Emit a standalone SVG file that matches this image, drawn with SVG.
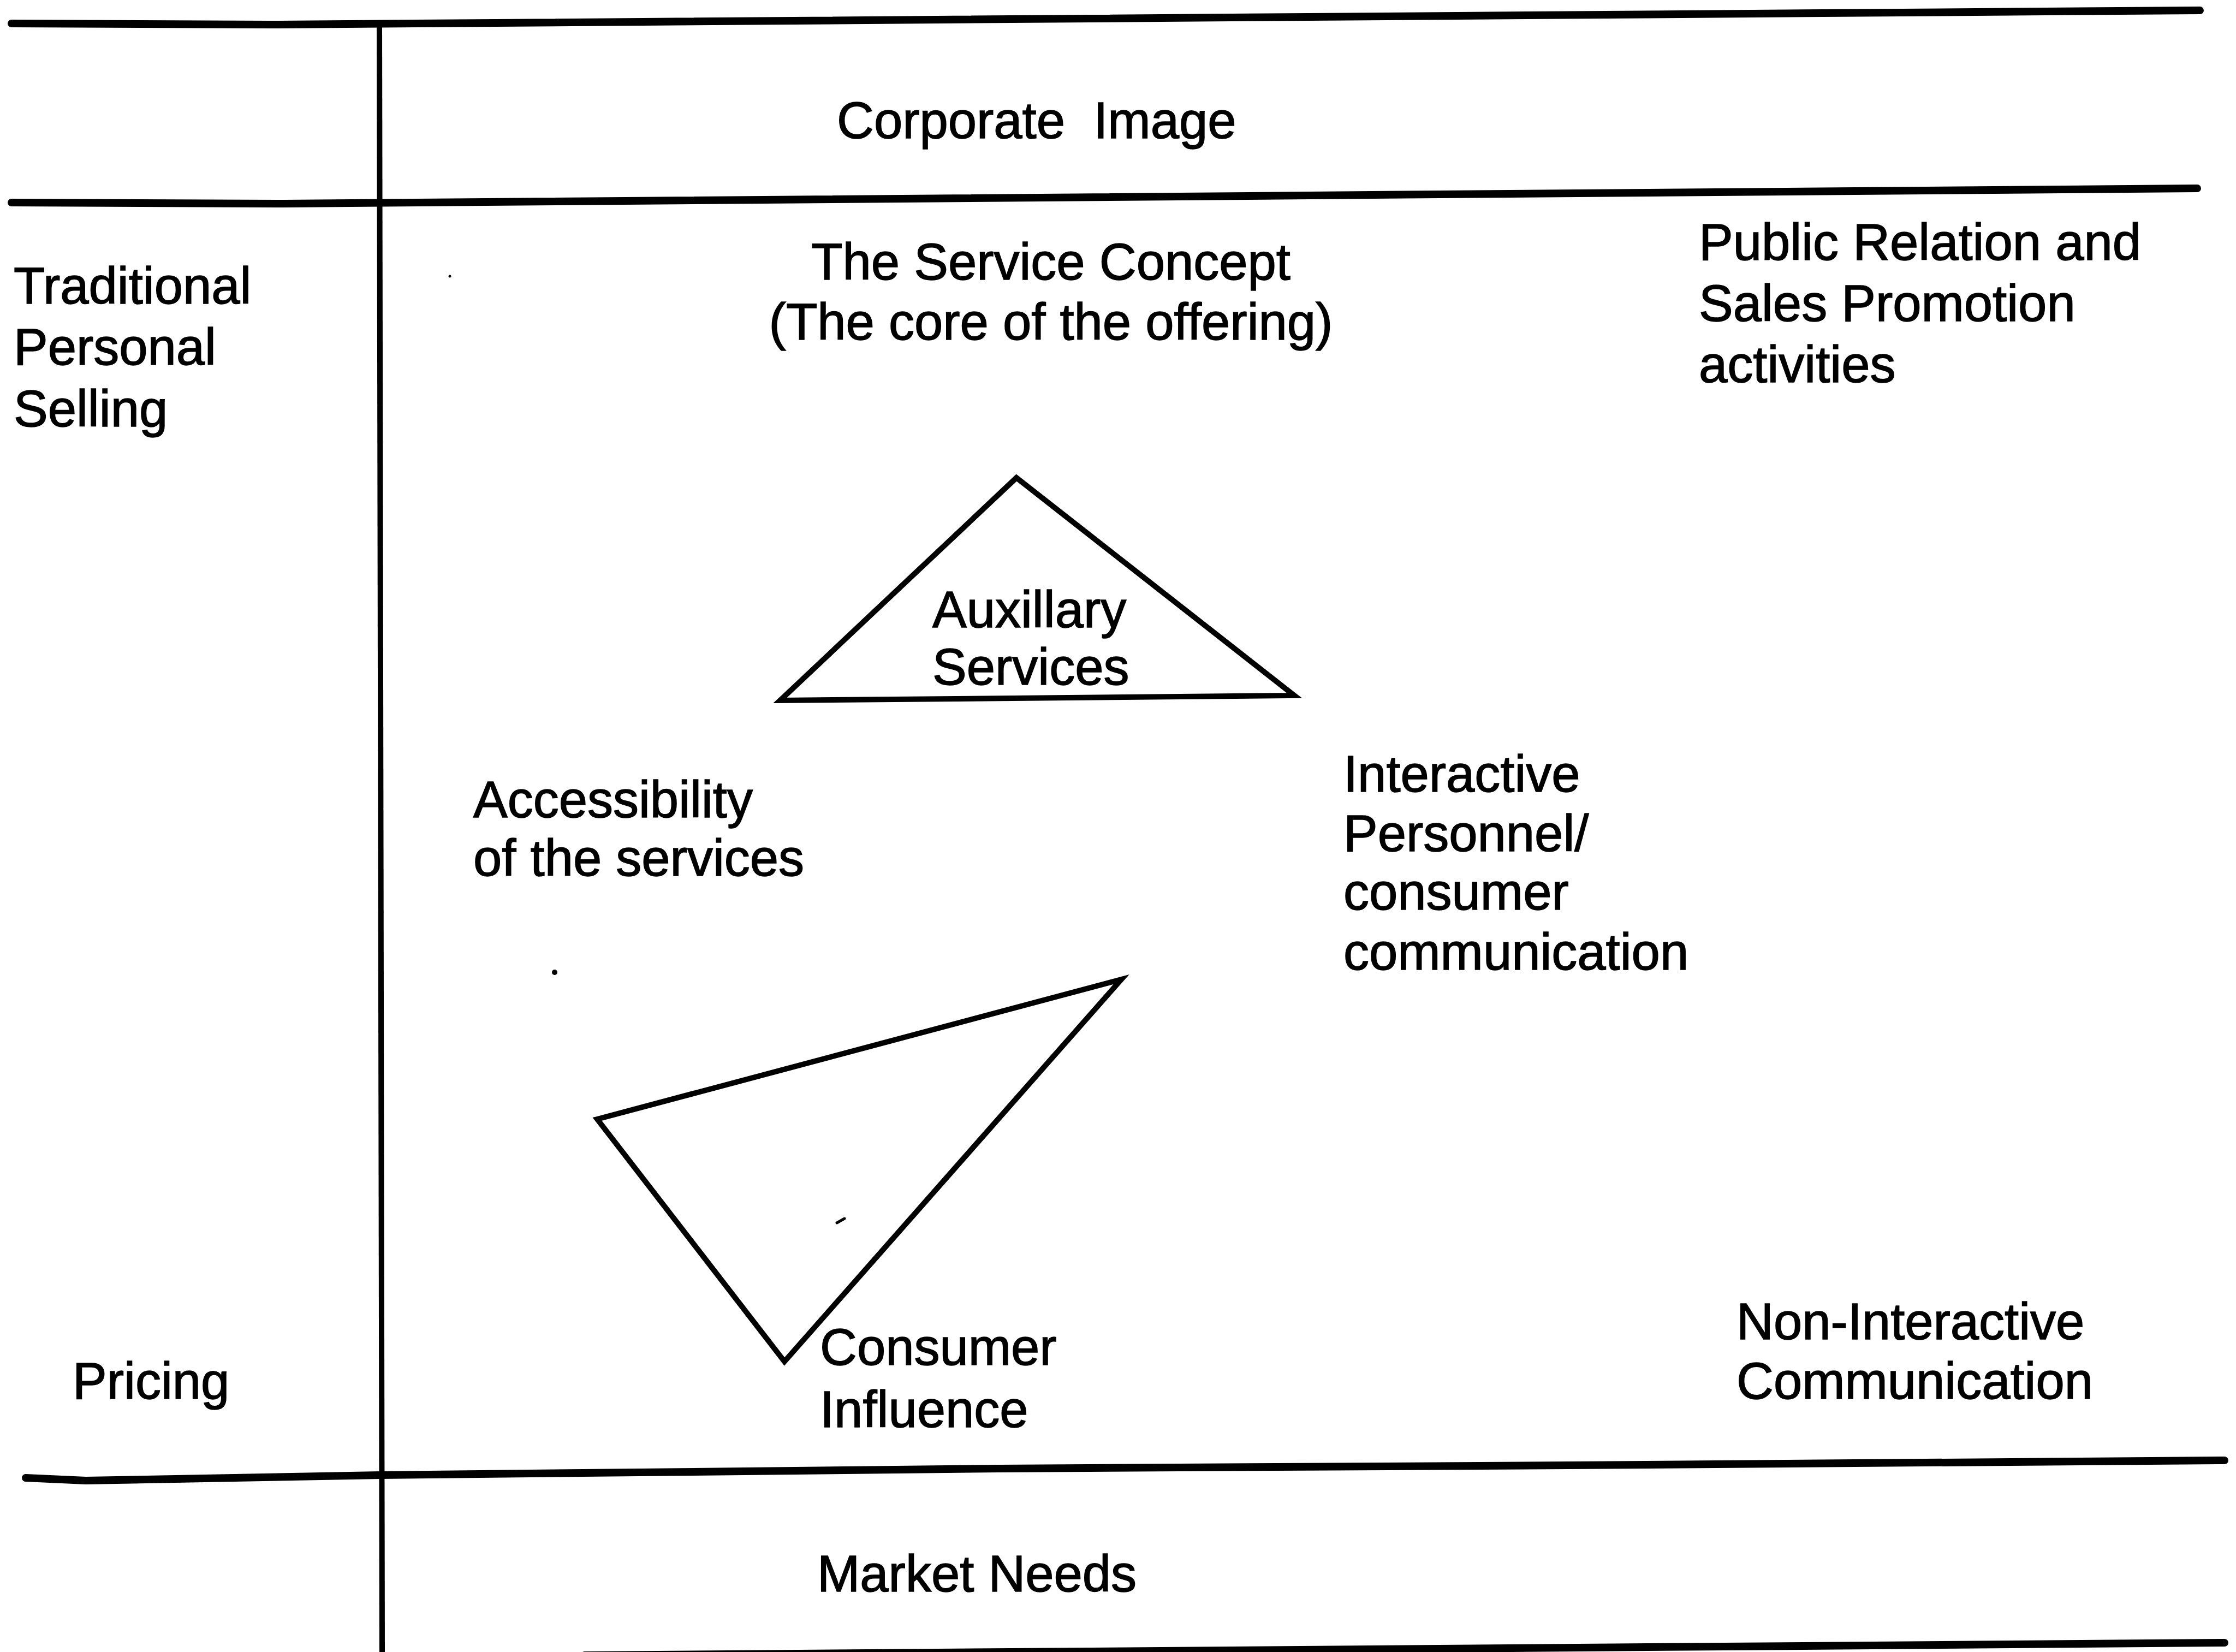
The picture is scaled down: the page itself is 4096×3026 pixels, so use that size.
<svg xmlns="http://www.w3.org/2000/svg" width="4096" height="3026" viewBox="0 0 4096 3026">
  <style>
    .rule { fill: none; stroke: #000; stroke-width: 14; stroke-linecap: round; stroke-linejoin: round; }
    .axis { fill: none; stroke: #000; stroke-width: 10; }
    .tri  { fill: none; stroke: #000; stroke-width: 10; stroke-linejoin: miter; }
    .lbl  { font-family: "Liberation Sans", Arial, Helvetica, sans-serif; font-size: 94px; fill: #000; stroke: #000; stroke-width: 1.5; }
    .mid  { text-anchor: middle; }
  </style>
  <rect width="4096" height="3026" fill="#fff"/>

  <!-- frame: horizontal rules and the vertical divider -->
  <g id="connectors">
    <path class="rule" d="M21,43 L496,45 L4030,19"/>
    <path class="rule" d="M21,371 L520,373 L4025,345"/>
    <path class="rule" d="M47,2707 L157,2712 L695,2702 L1829,2690 L2873,2684 L4075,2675"/>
    <path class="rule" d="M1071,3032 L4075,3009"/>
    <path class="axis" d="M695,45 L700,3026"/>
  </g>

  <g id="corporate-image">
    <text class="lbl" x="1533" y="253" xml:space="preserve">Corporate  Image</text>
  </g>

  <g id="service-concept">
    <text class="lbl mid" x="1925" y="512">The Service Concept</text>
    <text class="lbl mid" x="1925" y="622">(The core of the offering)</text>
  </g>

  <g id="public-relation">
    <text class="lbl" x="3112" y="476">Public Relation and</text>
    <text class="lbl" x="3112" y="588">Sales Promotion</text>
    <text class="lbl" x="3112" y="700">activities</text>
  </g>

  <g id="personal-selling">
    <text class="lbl" x="25" y="556">Traditional</text>
    <text class="lbl" x="25" y="668">Personal</text>
    <text class="lbl" x="25" y="781">Selling</text>
  </g>

  <g id="auxillary-services">
    <polygon class="tri" points="1862,875 1429,1283 2371,1274"/>
    <text class="lbl" x="1708" y="1149">Auxillary</text>
    <text class="lbl" x="1708" y="1254">Services</text>
  </g>

  <g id="accessibility">
    <text class="lbl" x="867" y="1497">Accessibility</text>
    <text class="lbl" x="867" y="1604">of the services</text>
  </g>

  <g id="interactive-communication">
    <text class="lbl" x="2461" y="1450">Interactive</text>
    <text class="lbl" x="2461" y="1559">Personnel/</text>
    <text class="lbl" x="2461" y="1666">consumer</text>
    <text class="lbl" x="2461" y="1776">communication</text>
  </g>

  <g id="consumer-influence">
    <polygon class="tri" points="1094,2050 2054,1794 1437,2494"/>
    <text class="lbl" x="1502" y="2500">Consumer</text>
    <text class="lbl" x="1502" y="2614">Influence</text>
  </g>

  <g id="pricing">
    <text class="lbl" x="133" y="2562">Pricing</text>
  </g>

  <g id="non-interactive">
    <text class="lbl" x="3181" y="2453">Non-Interactive</text>
    <text class="lbl" x="3181" y="2562">Communication</text>
  </g>

  <g id="market-needs">
    <text class="lbl" x="1497" y="2915">Market Needs</text>
  </g>

  <!-- stray marks -->
  <g id="marks" fill="#000" stroke="none">
    <circle cx="1016" cy="1781" r="5"/>
    <circle cx="824" cy="506" r="2.5"/>
    <path d="M1533,2240 L1547,2232" stroke="#000" stroke-width="5" stroke-linecap="round"/>
  </g>
</svg>
